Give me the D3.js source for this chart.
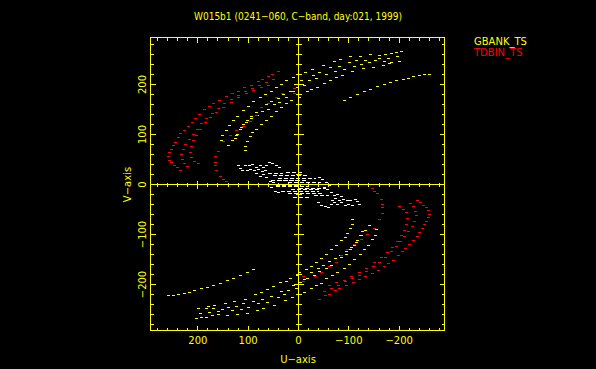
<!DOCTYPE html>
<html>
<head>
<meta charset="utf-8">
<script src="https://cdn.jsdelivr.net/npm/d3@7"></script>
<style>
  body { margin: 0; background: #000; }
  svg { display: block; }
  text { font-family: "DejaVu Sans", sans-serif; }
</style>
</head>
<body>
<div id="chart"></div>
<script>
// uv points (upper half only, conjugates are drawn too)
var gbankTracks = [
  [[154,89],[152,100],[145,109],[138,120],[130,129],[122,138],[110,149],[100,158],[90,167],[77,175],[67,181],[54,187],[44,196],[34,201],[24,208],[10,215],[-13,225],[-27,231],[-48,240],[-70,247],[-83,251],[-103,256],[-123,258],[-143,261],[-160,259],[-172,260],[-183,264],[-193,265],[-203,267]],
  [[140,80],[132,90],[125,100],[115,115],[105,125],[95,133],[82,140],[72,147],[60,152],[48,160],[38,166],[24,176],[10,188],[-10,200],[-20,210],[-35,213],[-55,222],[-72,228],[-90,232],[-110,238],[-125,242],[-140,245],[-160,252],[-178,254],[-195,256]],
  [[127,93],[122,101],[117,111],[110,121],[102,129],[94,138],[84,145],[74,155],[64,161],[54,167],[40,173],[30,181],[17,187],[3,195],[-5,208],[-28,219],[-41,225],[-63,235],[-80,238],[-100,245],[-115,248],[-133,250],[-152,248],[-170,247],[-183,246],[-200,247]],
  [[107,69],[106,78],[102,88],[97,98],[92,105],[84,111],[74,121],[64,129],[54,138],[44,147],[34,155],[24,163],[14,169],[0,175],[-3,181],[-17,187],[-25,192],[-37,195],[-50,203],[-63,209],[-75,215],[-87,220],[-107,228],[-128,233],[-147,236],[-167,240],[-180,243]],
  [[-90,169],[-103,176],[-117,181],[-130,187],[-142,191],[-155,197],[-169,201],[-181,204],[-193,208],[-207,211],[-217,214],[-228,217],[-239,219],[-250,221],[-260,221]]
];

var tdbinTracks = [
  [[40,228],[52,221],[60,218],[72,211],[80,207],[95,200],[108,195],[120,188],[133,183],[145,177],[157,170],[170,163],[178,157],[188,150],[197,141],[205,133],[212,126],[220,118],[228,110],[235,103],[240,95],[246,86],[250,79],[254,72],[258,65],[260,58],[258,50],[254,45],[248,40],[242,35],[236,30]],
  [[50,212],[64,206],[78,200],[92,193],[106,187],[120,180],[134,172],[148,163],[160,154],[172,144],[183,133],[193,123],[202,112],[210,102],[218,92],[225,82],[230,72],[233,62],[232,52],[228,44],[222,37]],
  [[60,200],[75,195],[90,190],[105,183],[120,175],[135,166],[150,155],[163,145],[175,135],[186,124],[196,112],[204,100],[210,90],[214,78],[216,66],[214,55],[208,48],[200,44]],
  [[145,7],[150,12],[156,17],[164,28],[166,38],[166,45],[165,57],[160,68],[149,88],[137,99],[125,109],[110,118],[97,128],[85,140],[75,155],[60,163],[45,175],[32,183],[8,183],[9,193]]
];

var whiteDots = [[120,38],[117,33],[112,29],[107,40],[102,30],[98,38],[96,31],[92,41],[89,28],[85,36],[80,31],[77,38],[73,27],[70,35],[66,30],[64,38],[58,45],[52,43],[45,40],[38,36],[84,23],[76,18],[70,21],[64,15],[57,8],[50,5],[60,1],[54,-5],[47,-12],[40,-15]];
// horizontal streaks: [u from, u to, v]
var whiteStreaks = [[60,30,22],[25,-10,25],[50,-20,18],[40,-35,13],[55,0,8],[20,-45,4],[45,-5,-1],[15,-40,-9]];

var uTicks = d3.range(-280, 281, 20);
var vTicks = d3.range(-280, 281, 20);
var uLabels = [200, 100, 0, -100, -200];
var vLabels = [-200, -100, 0, 100, 200];
var seriesNames = ["GBANK_TS", "TDBIN_TS"];
var seriesColors = ["#ffff00", "#ff0000"];

var width = 596, height = 369;
var yellow = "#ffff00";

var svg = d3.select("#chart").append("svg")
  .attr("width", width)
  .attr("height", height)
  .style("background", "#000");

var x = d3.scaleLinear().domain([294, -290]).range([150.5, 444.5]);
var y = d3.scaleLinear().domain([-292, 294]).range([330.5, 37.5]);

function px(v) { return Math.round(x(v) - 0.5) + 0.5; }
function py(v) { return Math.round(y(v) - 0.5) + 0.5; }
function withConj(pts) {
  return pts.concat(pts.map(function(p) { return [-p[0], -p[1]]; }));
}

// points
function drawDots(tracks, color) {
  var pts = withConj([].concat.apply([], tracks));
  svg.append("g").selectAll("rect").data(pts).enter().append("rect")
    .attr("x", function(d) { return Math.round(x(d[0])) - 1; })
    .attr("y", function(d) { return Math.round(y(d[1])); })
    .attr("width", 3)
    .attr("height", 1)
    .attr("fill", color)
    .attr("shape-rendering", "crispEdges");
}
drawDots(gbankTracks, seriesColors[0]);
drawDots(tdbinTracks, seriesColors[1]);
drawDots([whiteDots], "#ffffff");

var streaks = whiteStreaks.concat(whiteStreaks.map(function(s) { return [-s[1], -s[0], -s[2]]; }));
svg.append("g").selectAll("line").data(streaks).enter().append("line")
  .attr("x1", function(d) { return x(d[0]); })
  .attr("x2", function(d) { return x(d[1]); })
  .attr("y1", function(d) { return py(d[2]); })
  .attr("y2", function(d) { return py(d[2]); })
  .attr("stroke", "#ffffff")
  .attr("stroke-width", 1)
  .attr("stroke-dasharray", "4,2")
  .attr("shape-rendering", "crispEdges");

// frame, zero lines, ticks
var ax = svg.append("g").attr("stroke", yellow).attr("stroke-width", 1).attr("shape-rendering", "crispEdges");
ax.append("rect")
  .attr("x", px(294)).attr("y", py(294))
  .attr("width", px(-290) - px(294)).attr("height", py(-292) - py(294))
  .attr("fill", "none");
ax.append("line").attr("x1", px(0)).attr("x2", px(0)).attr("y1", py(294)).attr("y2", py(-292));
ax.append("line").attr("x1", px(294)).attr("x2", px(-290)).attr("y1", py(0)).attr("y2", py(0));

function tlen(t, a, b) { return t % 100 === 0 ? b : a; }
uTicks.forEach(function(t) {
  var xx = px(t);
  ax.append("line").attr("x1", xx).attr("x2", xx).attr("y1", py(-292)).attr("y2", py(-292) - tlen(t, 3, 5));
  ax.append("line").attr("x1", xx).attr("x2", xx).attr("y1", py(294)).attr("y2", py(294) + tlen(t, 3, 5));
  if (t !== 0) ax.append("line").attr("x1", xx).attr("x2", xx).attr("y1", py(0) - tlen(t, 2, 4)).attr("y2", py(0) + tlen(t, 2, 4));
});
vTicks.forEach(function(t) {
  var yy = py(t);
  ax.append("line").attr("y1", yy).attr("y2", yy).attr("x1", px(294)).attr("x2", px(294) + tlen(t, 3, 5));
  ax.append("line").attr("y1", yy).attr("y2", yy).attr("x1", px(-290)).attr("x2", px(-290) - tlen(t, 3, 5));
  if (t !== 0) ax.append("line").attr("y1", yy).attr("y2", yy).attr("x1", px(0) - tlen(t, 3, 5)).attr("x2", px(0) + tlen(t, 3, 5));
});

function fmt(v) { return v < 0 ? "\u2212" + (-v) : "" + v; }

svg.append("g").selectAll("text").data(uLabels).enter().append("text")
  .attr("x", function(d) { return x(d); })
  .attr("y", 343.5)
  .attr("text-anchor", "middle")
  .attr("font-size", "10px")
  .attr("fill", yellow)
  .text(fmt);

svg.append("g").selectAll("text").data(vLabels).enter().append("text")
  .attr("transform", function(d) { return "translate(145.5," + y(d) + ")rotate(-90)"; })
  .attr("text-anchor", "middle")
  .attr("font-size", "10px")
  .attr("fill", yellow)
  .text(fmt);

svg.append("text")
  .attr("x", 298).attr("y", 362.5)
  .attr("text-anchor", "middle")
  .attr("font-size", "10px")
  .attr("fill", yellow)
  .text("U\u2212axis");

svg.append("text")
  .attr("transform", "translate(131,184.5)rotate(-90)")
  .attr("text-anchor", "middle")
  .attr("font-size", "10px")
  .attr("fill", yellow)
  .text("V\u2212axis");

svg.append("text")
  .attr("x", 194).attr("y", 19.5)
  .attr("font-size", "10px")
  .attr("fill", yellow)
  .attr("textLength", 208)
  .attr("lengthAdjust", "spacingAndGlyphs")
  .text("W015b1 (0241\u2212060, C\u2212band, day:021, 1999)");

// legend
svg.append("g").selectAll("text").data(seriesNames).enter().append("text")
  .attr("x", 474)
  .attr("y", function(d, i) { return 45 + i * 11; })
  .attr("font-size", "10px")
  .attr("fill", function(d, i) { return seriesColors[i]; })
  .text(function(d) { return d; });
</script>
</body>
</html>
